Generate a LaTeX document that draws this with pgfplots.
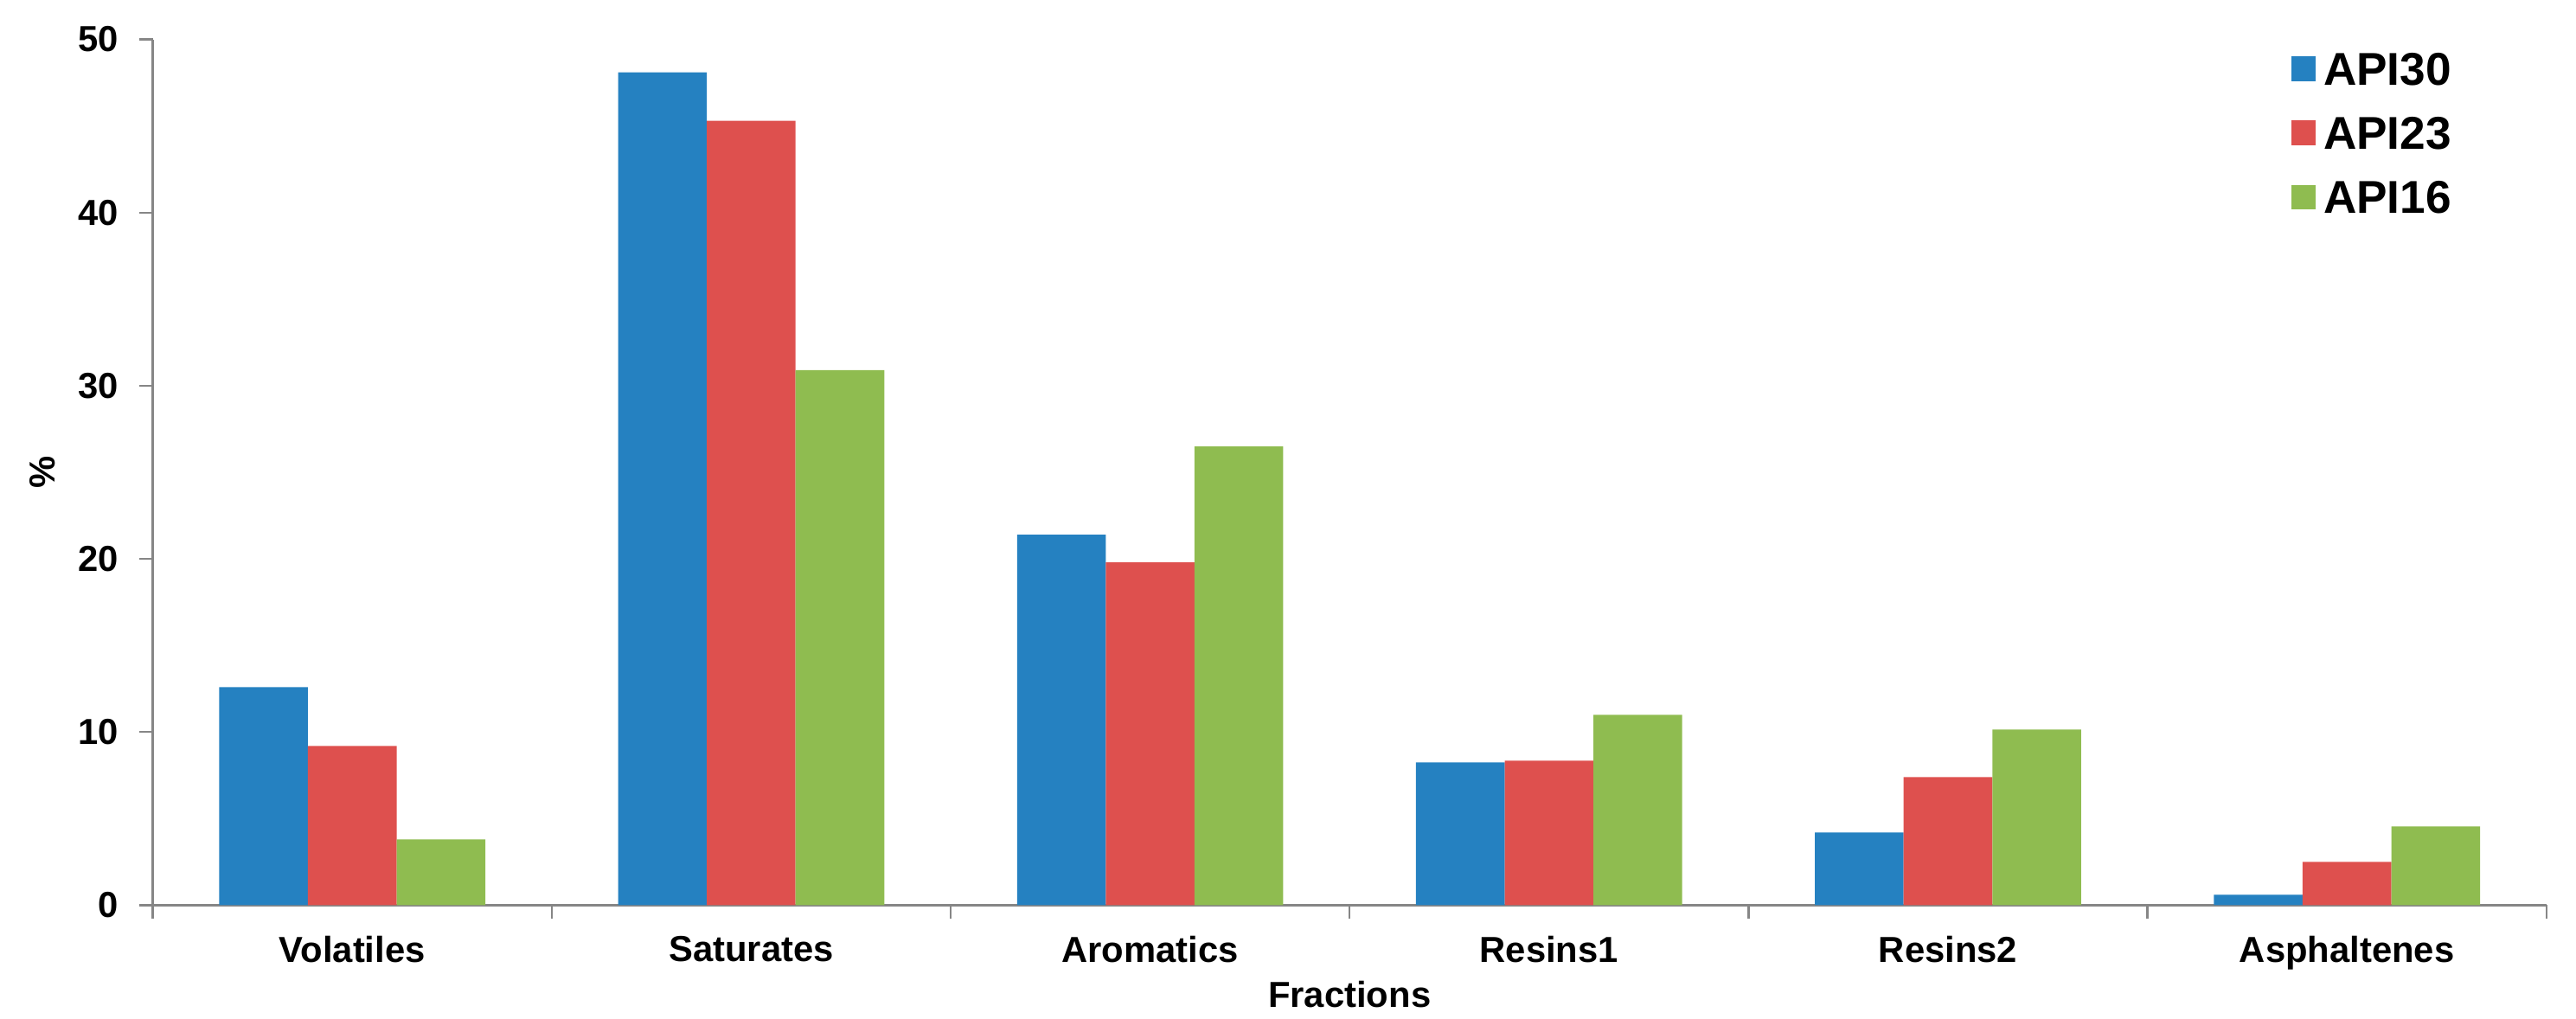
\documentclass[border=0pt]{standalone}
\usepackage{pgfplots}
\pgfplotsset{compat=1.18}
\usepackage{fontspec}
\setmainfont{Liberation Sans}
\definecolor{cblue}{RGB}{37,129,193}
\definecolor{cred}{RGB}{222,80,78}
\definecolor{cgreen}{RGB}{143,188,80}
\definecolor{axgray}{RGB}{134,134,134}
\begin{document}
\begin{tikzpicture}
\begin{axis}[
  scale only axis,
  width=728.5pt, height=263.5pt,
  ybar=0pt, bar width=27pt,
  xmin=-0.5, xmax=5.5,
  ymin=0, ymax=50,
  ytick={0,10,...,50},
  xtick={0,...,5},
  xticklabels={Volatiles,Saturates,Aromatics,Resins1,Resins2,Asphaltenes},
  minor xtick={-0.5,0.5,...,5.5},
  major x tick style={draw=none},
  tick align=outside,
  major tick length=4pt, minor tick length=4pt,
  tick style={axgray, line width=0.6pt},
  axis x line*=bottom, axis y line*=left,
  axis line style={axgray, line width=0.6pt, -},
  /pgf/number format/assume math mode=true,
  tick label style={font=\bfseries\fontsize{11}{13}\selectfont, text=black},
  yticklabel style={xshift=-3pt},
  xticklabel style={yshift=-2pt},
  xlabel={Fractions}, ylabel={\%},
  label style={font=\bfseries\fontsize{11}{13}\selectfont},
  xlabel style={yshift=3.5pt},
  legend style={draw=none, fill=none, at={(rel axis cs:0.893,0.995)}, anchor=north west,
    font=\bfseries\fontsize{14}{16}\selectfont, inner sep=0pt,
    nodes={inner sep=2.3pt, text height=10pt, text depth=0pt}, row sep=5pt},
  legend cell align=left,
  legend image code/.code={\fill[#1] (0pt,-3.8pt) rectangle (7.6pt,3.8pt);},
]
\addplot[fill=cblue, draw=none] coordinates {(0,12.6) (1,48.1) (2,21.4) (3,8.25) (4,4.2) (5,0.6)};
\addplot[fill=cred, draw=none] coordinates {(0,9.2) (1,45.3) (2,19.8) (3,8.35) (4,7.4) (5,2.5)};
\addplot[fill=cgreen, draw=none] coordinates {(0,3.8) (1,30.9) (2,26.5) (3,11.0) (4,10.15) (5,4.55)};
\legend{API30,API23,API16}
\end{axis}
\path (current axis.south west) ++(-46.5pt,-34.5pt) coordinate (bl);
\path (current axis.north east) ++(9pt,12pt) coordinate (tr);
\pgfresetboundingbox
\useasboundingbox (bl) rectangle (tr);
\end{tikzpicture}
\end{document}
